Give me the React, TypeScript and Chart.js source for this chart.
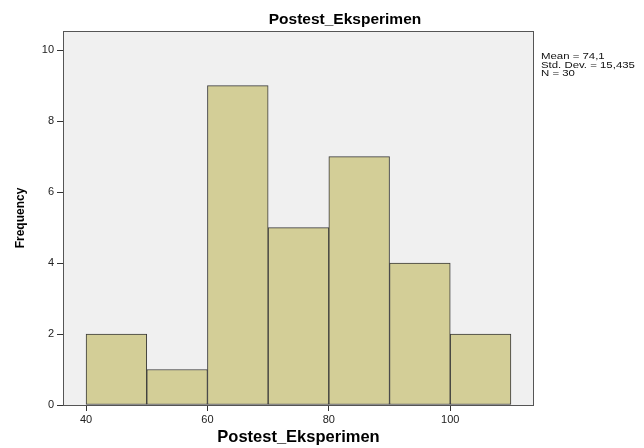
import React, { useEffect, useRef } from "react";
import { Chart, registerables } from "chart.js";

Chart.register(...registerables);

const chartTitle = "Postest_Eksperimen";
const xAxisTitle = "Postest_Eksperimen";
const yAxisTitle = "Frequency";
const binStarts = [40, 50, 60, 70, 80, 90, 100];
const binWidth = 10;
const frequencies = [2, 1, 9, 5, 7, 4, 2];
const xTicks = [40, 60, 80, 100];
const yTicks = [0, 2, 4, 6, 8, 10];
const statsLines = ["Mean = 74,1", "Std. Dev. = 15,435", "N = 30"];

const FONT = "Arial, 'Liberation Sans', sans-serif";

export default function App() {
  const ref = useRef<HTMLCanvasElement>(null);

  useEffect(() => {
    document.body.style.margin = "0";
    const canvas = ref.current;
    if (!canvas) return;

    const framePlugin = {
      id: "frame",
      beforeDraw(chart: any) {
        const { ctx, chartArea: a } = chart;
        ctx.save();
        ctx.fillStyle = "#f0f0f0";
        ctx.fillRect(a.left, a.top, a.right - a.left, a.bottom - a.top);
        ctx.restore();
      },
      afterDatasetsDraw(chart: any) {
        const { ctx, chartArea: a } = chart;
        ctx.save();
        ctx.strokeStyle = "#555555";
        ctx.lineWidth = 1;
        ctx.strokeRect(a.left + 0.5, a.top + 0.5, a.right - a.left - 1, a.bottom - a.top);
        ctx.restore();
      },
      afterDraw(chart: any) {
        const { ctx, chartArea: a } = chart;
        ctx.save();
        ctx.fillStyle = "#000";
        ctx.font = `bold 15.5px ${FONT}`;
        ctx.textAlign = "center";
        ctx.textBaseline = "alphabetic";
        ctx.fillText(chartTitle, 345, 24);
        ctx.restore();

        ctx.save();
        ctx.fillStyle = "#111";
        ctx.font = `9.5px ${FONT}`;
        ctx.textAlign = "left";
        ctx.textBaseline = "alphabetic";
        const sx = 1.2;
        const x0 = a.right + 7;
        ctx.translate(x0, 0);
        ctx.scale(sx, 1);
        statsLines.forEach((s, i) => {
          ctx.fillText(s, 0, 59 + i * 8.5);
        });
        ctx.restore();
      },
    };

    const chart = new Chart(canvas, {
      type: "bar",
      data: {
        datasets: [
          {
            data: binStarts.map((s, i) => ({ x: s + binWidth / 2, y: frequencies[i] })),
            backgroundColor: "#d3ce97",
            borderColor: "#3a3a3a",
            borderWidth: 1,
            borderSkipped: false,
            barPercentage: 1,
            categoryPercentage: 1,
          },
        ],
      },
      options: {
        animation: false,
        responsive: false,
        devicePixelRatio: 1,
        layout: { padding: { top: 31, right: 110, left: 0, bottom: 0 } },
        plugins: {
          legend: { display: false },
          tooltip: { enabled: false },
          title: { display: false },
        },
        scales: {
          x: {
            type: "linear",
            min: 36.2,
            max: 113.8,
            offset: false,
            afterBuildTicks: (s: any) => {
              s.ticks = xTicks.map((v) => ({ value: v }));
            },
            afterFit: (s: any) => {
              s.height = 43;
            },
            border: { display: false },
            grid: {
              offset: false,
              drawOnChartArea: false,
              drawTicks: true,
              tickLength: 6,
              color: "#333",
            },
            ticks: {
              font: { family: FONT, size: 11 },
              color: "#222",
              padding: 2,
              maxRotation: 0,
            },
            title: {
              display: true,
              text: xAxisTitle,
              font: { family: FONT, size: 16.5, weight: "bold" },
              color: "#000",
              padding: { top: 1, bottom: 1 },
            },
          },
          y: {
            min: 0,
            max: 10.54,
            afterBuildTicks: (s: any) => {
              s.ticks = yTicks.map((v) => ({ value: v }));
            },
            afterFit: (s: any) => {
              s.width = 63;
            },
            border: { display: false },
            grid: {
              drawOnChartArea: false,
              drawTicks: true,
              tickLength: 6,
              color: "#333",
            },
            ticks: {
              font: { family: FONT, size: 11 },
              color: "#222",
              padding: 3,
            },
            title: {
              display: true,
              text: yAxisTitle,
              font: { family: FONT, size: 12, weight: "bold" },
              color: "#000",
              padding: { top: 13, bottom: 13 },
            },
          },
        },
      },
      plugins: [framePlugin],
    } as any);

    return () => chart.destroy();
  }, []);

  return <canvas ref={ref} width={644} height={448} style={{ display: "block" }} />;
}
